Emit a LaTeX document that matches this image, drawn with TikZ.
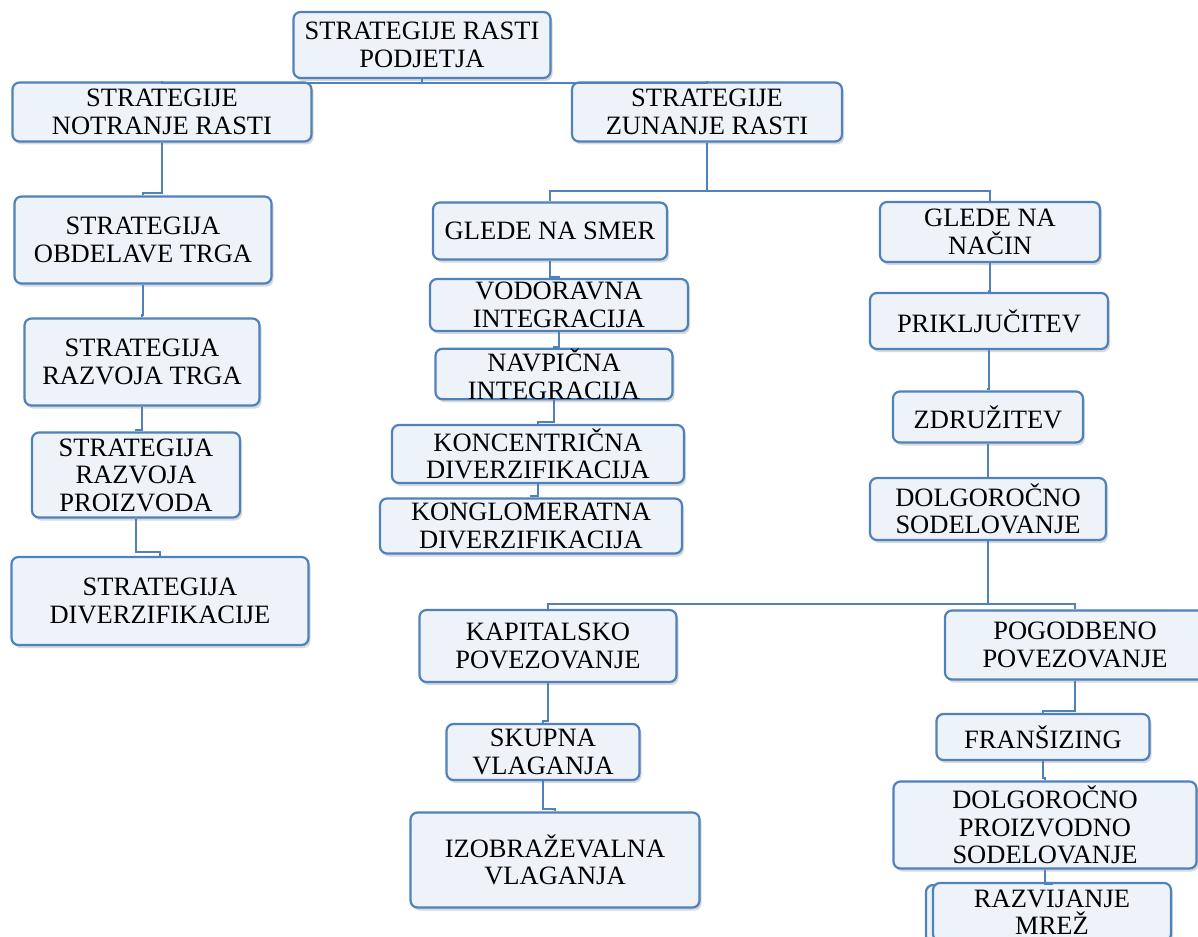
\documentclass[tikz,border=0pt]{standalone}
\usepackage{fontspec}
\setmainfont{Liberation Serif}
\usetikzlibrary{shadows}
\definecolor{boxline}{RGB}{79,129,189}
\definecolor{boxfill}{RGB}{238,243,250}
\begin{document}
\begin{tikzpicture}[x=1pt,y=-1pt]

      \tikzset{box/.style={draw=boxline, line width=2.2pt, rounded corners=7pt, fill=boxfill, align=center, inner sep=0pt,
                 drop shadow={shadow xshift=2pt, shadow yshift=-3pt, opacity=0.3}, font=\fontsize{26.5}{27.5}\selectfont},
               link/.style={draw=boxline, line width=2pt},
               elbow/.style={to path={(\tikztostart) -- ++(0,#1) -| (\tikztotarget)}}}
      \useasboundingbox (0,0) rectangle (1198,936);
%% Vertices
      	\node[box, minimum width=257pt, minimum height=66pt] (root) at (422,45) {STRATEGIJE RASTI\\PODJETJA};
      	\node[box, minimum width=299pt, minimum height=59pt] (notr) at (162,112) {STRATEGIJE\\NOTRANJE RASTI};
      	\node[box, minimum width=270pt, minimum height=59pt] (zun) at (707,112) {STRATEGIJE\\ZUNANJE RASTI};
      	\node[box, minimum width=257pt, minimum height=87pt] (obd) at (143,240) {STRATEGIJA\\OBDELAVE TRGA};
      	\node[box, minimum width=235pt, minimum height=87pt] (rtrg) at (142,362) {STRATEGIJA\\RAZVOJA TRGA};
      	\node[box, minimum width=208pt, minimum height=85pt] (rpro) at (136,475) {STRATEGIJA\\RAZVOJA\\PROIZVODA};
      	\node[box, minimum width=297pt, minimum height=88pt] (div) at (160,601) {STRATEGIJA\\DIVERZIFIKACIJE};
      	\node[box, minimum width=234pt, minimum height=57pt] (smer) at (550,231) {GLEDE NA SMER};
      	\node[box, minimum width=220pt, minimum height=60pt] (nacin) at (990,232) {GLEDE NA\\NAČIN};
      	\node[box, minimum width=258pt, minimum height=52pt] (vod) at (559,305) {VODORAVNA\\INTEGRACIJA};
      	\node[box, minimum width=237pt, minimum height=48pt] (nav) at (554,374) {NAVPIČNA\\INTEGRACIJA};
      	\node[box, minimum width=292pt, minimum height=58pt] (konc) at (538,454) {KONCENTRIČNA\\DIVERZIFIKACIJA};
      	\node[box, minimum width=302pt, minimum height=55pt] (kong) at (531,526) {KONGLOMERATNA\\DIVERZIFIKACIJA};
      	\node[box, minimum width=238pt, minimum height=56pt] (prik) at (989,321) {PRIKLJUČITEV};
      	\node[box, minimum width=190pt, minimum height=51pt] (zdr) at (988,417) {ZDRUŽITEV};
      	\node[box, minimum width=236pt, minimum height=62pt] (dsod) at (988,509) {DOLGOROČNO\\SODELOVANJE};
      	\node[box, minimum width=257pt, minimum height=72pt] (kap) at (548,646) {KAPITALSKO\\POVEZOVANJE};
      	\node[box, minimum width=260pt, minimum height=69pt] (pog) at (1075,645) {POGODBENO\\POVEZOVANJE};
      	\node[box, minimum width=193pt, minimum height=56pt] (skup) at (543,752) {SKUPNA\\VLAGANJA};
      	\node[box, minimum width=289pt, minimum height=95pt] (izo) at (555,860) {IZOBRAŽEVALNA\\VLAGANJA};
      	\node[box, minimum width=213pt, minimum height=46pt] (fran) at (1043,737) {FRANŠIZING};
      	\node[box, minimum width=303pt, minimum height=87pt] (dps) at (1045,825) {DOLGOROČNO\\PROIZVODNO\\SODELOVANJE};
      	\node[box, minimum width=242pt, minimum height=58pt] (rm0) at (1047,914) {};
      	\node[box, minimum width=238pt, minimum height=58pt] (rm) at (1052,912) {RAZVIJANJE\\MREŽ};
%Edges
		\draw[link] (root.south) to[elbow=4] (notr.north);
		\draw[link] (root.south) to[elbow=4] (zun.north);
		\draw[link] (notr.south) to[elbow=50] (obd.north);
		\draw[link] (obd.south) to[elbow=30] (rtrg.north);
		\draw[link] (rtrg.south) to[elbow=23] (rpro.north);
		\draw[link] (rpro.south) to[elbow=33] (div.north);
		\draw[link] (zun.south) to[elbow=48] (smer.north);
		\draw[link] (zun.south) to[elbow=48] (nacin.north);
		\draw[link] (smer.south) to[elbow=16] (vod.north);
		\draw[link] (vod.south) to[elbow=15] (nav.north);
		\draw[link] (nav.south) to[elbow=22] (konc.north);
		\draw[link] (konc.south) to[elbow=12] (kong.north);
		\draw[link] (nacin.south) to[elbow=28] (prik.north);
		\draw[link] (prik.south) to[elbow=39] (zdr.north);
		\draw[link] (zdr.south) to[elbow=31] (dsod.north);
		\draw[link] (dsod.south) to[elbow=63] (kap.north);
		\draw[link] (dsod.south) to[elbow=63] (pog.north);
		\draw[link] (kap.south) to[elbow=38] (skup.north);
		\draw[link] (skup.south) to[elbow=28] (izo.north);
		\draw[link] (pog.south) to[elbow=30] (fran.north);
		\draw[link] (fran.south) to[elbow=17] (dps.north);
		\draw[link] (dps.south) to[elbow=14] (rm.north);

	\end{tikzpicture}
\end{document}
